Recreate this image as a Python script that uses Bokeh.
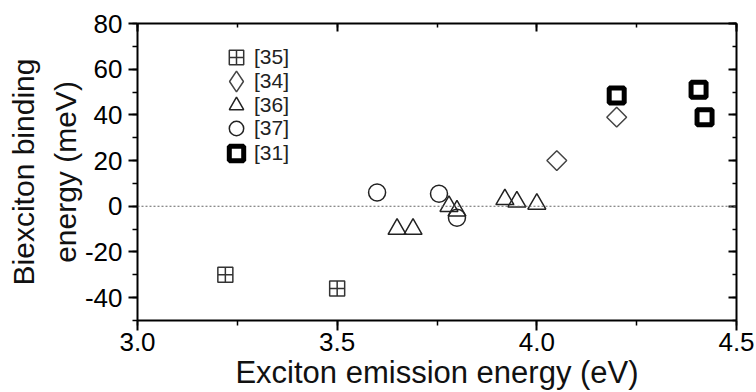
import math
from bokeh.plotting import figure
from bokeh.models import (LinearAxis, SingleIntervalTicker, FixedTicker, Span, Legend,
                          LegendItem, NumeralTickFormatter, Range1d, CustomJSTickFormatter,
                          ColumnDataSource)
from bokeh.embed import file_html
from bokeh.resources import INLINE

# ---- data ----
ref35_x = [3.22, 3.50]
ref35_y = [-30, -36]
ref34_x = [4.05, 4.20]
ref34_y = [20, 39]
ref36_x = [3.65, 3.69, 3.78, 3.80, 3.92, 3.95, 4.00]
ref36_y = [-10, -10, 0, -2, 3, 2, 1]
ref37_x = [3.60, 3.755, 3.80]
ref37_y = [6, 5.5, -5]
ref31_x = [4.20, 4.405, 4.42]
ref31_y = [48.5, 51, 39]
labels = ["[35]", "[34]", "[36]", "[37]", "[31]"]

FONT = "Liberation Sans"

p = figure(width=756, height=392, output_backend="svg", toolbar_location=None,
           x_range=Range1d(3.0, 4.5), y_range=Range1d(-50, 80),
           min_border_left=137, min_border_right=20, min_border_top=23, min_border_bottom=72)
p.grid.visible = False
p.outline_line_color = None
p.background_fill_color = "white"

def style_axis(ax):
    ax.axis_line_width = 2
    ax.axis_line_color = "black"
    ax.major_tick_line_width = 2
    ax.minor_tick_line_width = 1.5
    ax.major_tick_line_color = "black"
    ax.minor_tick_line_color = "black"
    ax.major_label_text_font = FONT
    ax.major_label_text_font_size = "26px"
    ax.major_label_text_color = "black"
    ax.axis_label_text_font = FONT
    ax.axis_label_text_font_size = "30px"
    ax.axis_label_text_font_style = "normal"
    ax.axis_label_text_color = "#111111"

xt = SingleIntervalTicker(interval=0.5, num_minor_ticks=2)
yt = SingleIntervalTicker(interval=20, num_minor_ticks=2)

xa = p.xaxis[0]
xa.ticker = xt
xa.formatter = NumeralTickFormatter(format="0.0")
style_axis(xa)
xa.major_tick_out = 10
xa.major_tick_in = 0
xa.minor_tick_out = 5
xa.minor_tick_in = 0
xa.major_label_standoff = 2
xa.axis_label = "Exciton emission energy (eV)"
xa.axis_label_text_font_size = "31px"
xa.axis_label_standoff = 1

ya = p.yaxis[0]
ya.ticker = yt
ya.formatter = CustomJSTickFormatter(code="return tick.toFixed(0)")
style_axis(ya)
ya.major_tick_out = 9
ya.major_tick_in = 0
ya.minor_tick_out = 5
ya.minor_tick_in = 0
ya.major_label_standoff = 6
ya.axis_label = "energy (meV)"
ya.axis_label_standoff = 0

ya2 = LinearAxis(ticker=FixedTicker(ticks=[]), axis_label="Biexciton binding")
style_axis(ya2)
ya2.axis_line_color = None
ya2.major_tick_line_color = None
ya2.minor_tick_line_color = None
ya2.axis_label_standoff = 6
p.add_layout(ya2, "left")

blank = CustomJSTickFormatter(code="return ''")

top = LinearAxis(ticker=xt, formatter=blank, major_label_standoff=0)
style_axis(top)
top.major_label_text_font_size = "1px"
top.major_tick_in = 8
top.major_tick_out = 0
top.minor_tick_in = 4
top.minor_tick_out = 0
p.add_layout(top, "above")

right = LinearAxis(ticker=yt, formatter=blank, major_label_standoff=0)
style_axis(right)
right.major_label_text_font_size = "1px"
right.major_tick_in = 8
right.major_tick_out = 0
right.minor_tick_in = 4
right.minor_tick_out = 0
p.add_layout(right, "right")

p.add_layout(Span(location=0, dimension="width", line_color="#666666",
                  line_width=1.2, line_dash="2 2"))

r35 = p.scatter(ref35_x, ref35_y, marker="square_cross", size=15, fill_color=None,
                line_color="#333333", line_width=1.5)
src34 = ColumnDataSource(dict(x=ref34_x, y=ref34_y))
r34 = p.scatter("x", "y", source=src34, marker="square", angle=math.pi / 4, size=14,
                fill_color=None, line_color="#444444", line_width=1.5)
r36 = p.scatter(ref36_x, ref36_y, marker="triangle", size=18, fill_color=None,
                line_color="#222222", line_width=1.5)
r37 = p.scatter(ref37_x, ref37_y, marker="circle", size=17, fill_color=None,
                line_color="#222222", line_width=1.5)
r31 = p.scatter(ref31_x, ref31_y, marker="square", size=15, fill_color=None,
                line_color="black", line_width=5)
# legend keys for [34]: the legend ignores marker angle, so a diamond renderer
# on the same data, zero-sized in the plot (legend sizes come from its box)
r34_key = p.scatter("x", "y", source=src34, marker="diamond", size=0,
                    fill_color=None, line_color="#444444", line_width=1.5)
# an invisible key that only carries the [34] text in the regular row
r34_txt = p.scatter("x", "y", source=src34, marker="diamond", size=0,
                    fill_color=None, line_color="#444444", line_alpha=0)

def add_row(label, rend, vx, vy, gw, gh):
    lg = Legend(items=[LegendItem(label=label, renderers=[rend])], location=(vx, vy))
    lg.glyph_width = gw
    lg.glyph_height = gh
    lg.label_standoff = 0
    lg.padding = 0
    lg.margin = 0
    lg.border_line_color = None
    lg.background_fill_alpha = 0
    lg.label_text_font = FONT
    lg.label_text_font_size = "21px"
    lg.label_text_color = "#222222"
    p.add_layout(lg)

# one single-entry legend per row, so the legend markers can be large
# while the rows stay close together
legend_rows_vy = [243, 219, 195, 172, 147]
for lab, rend, vy in zip(labels, [r35, r34_txt, r36, r37, r31], legend_rows_vy):
    add_row(lab, rend, 81, vy, 36, 40)
# larger diamond key for the [34] row, centred on the same spot
add_row("", r34_key, 81 + 18 - 26, legend_rows_vy[1] - 6, 52, 52)

open("out.html", "w").write(file_html(p, INLINE))
